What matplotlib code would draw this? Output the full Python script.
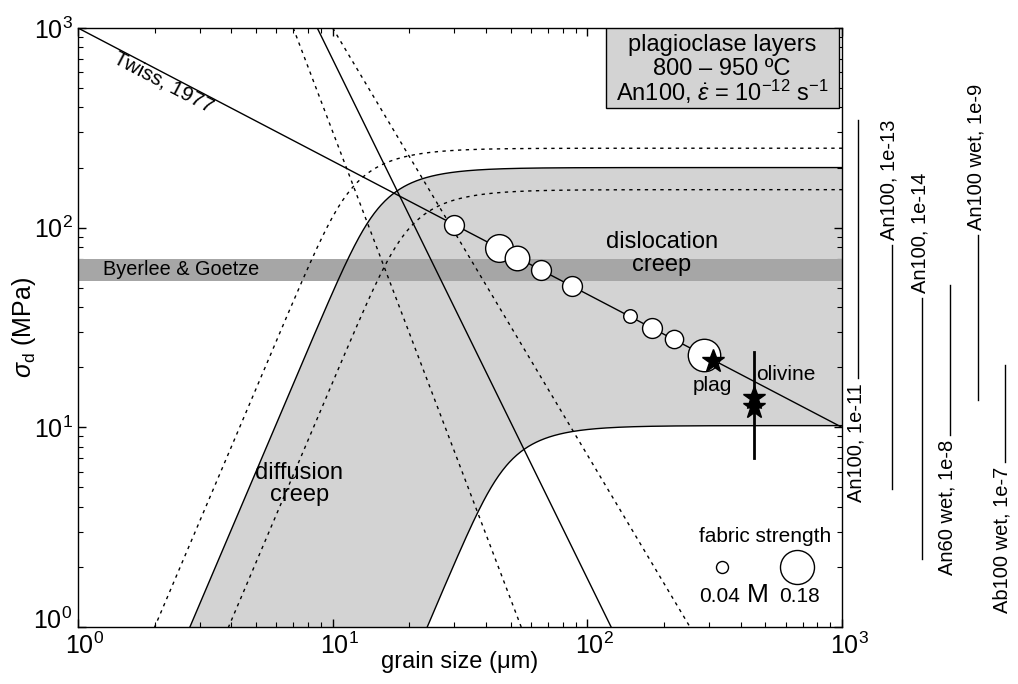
import numpy as np
import matplotlib
matplotlib.use("Agg")
import matplotlib.pyplot as plt
import matplotlib.transforms as mtransforms
from matplotlib.patches import Rectangle
from matplotlib.transforms import blended_transform_factory

plt.rcParams["font.family"] = ["Liberation Sans", "DejaVu Sans"]
plt.rcParams["mathtext.fontset"] = "custom"
plt.rcParams["mathtext.rm"] = "Liberation Sans"
plt.rcParams["mathtext.it"] = "Liberation Sans:italic"
plt.rcParams["mathtext.sf"] = "Liberation Sans"

# composite flow laws at fixed strain rate:
# plateau = dislocation-creep stress (MPa), d0 = grain size (um) where diffusion stress = 1 MPa
field_plateau = [200, 10.2]     # solid, upper / lower edge of grey field
field_d0 = [2.75, 23.5]
dash_plateau = [250, 155]       # dashed, temperature bounds
dash_d0 = [2.0, 3.9]

# straight lines (end points, grain size um / stress MPa)
twiss_d = [1, 1000]
twiss_s = [1000, 10]
steep_d = [8.7, 124]
steep_s = [1000, 1]
steep_dash_d = [[7.0, 55], [10.0, 253]]
steep_dash_s = [[1000, 1], [1000, 1]]

byerlee = (54, 70)

# measured samples
grain_d = [30, 45, 53, 66, 87, 147, 180, 218, 287]
grain_s = [103.5, 79, 70.7, 61.2, 50.9, 35.9, 31.4, 27.6, 23.0]
fabric_M = [0.09, 0.14, 0.12, 0.09, 0.09, 0.05, 0.09, 0.08, 0.17]
legend_M = [0.04, 0.18]

plag_d, plag_s = 311, 21.5
oliv_d = [451, 451]
oliv_s = [14.0, 12.6]
oliv_range = (7.0, 23.9)

# plateau-stress ranges of other flow laws, shown beside the axes
law_labels = ["An100, 1e-11", "An100, 1e-13", "An100, 1e-14",
              "An60 wet, 1e-8", "An100 wet, 1e-9", "Ab100 wet, 1e-7"]
law_lo = [17.7, 4.9, 2.2, 9.2, 13.7, 6.7]
law_hi = [346, 82, 44.5, 51.6, 92, 20.5]
law_text_below = [True, False, False, True, False, True]

decades = [1, 10, 100, 1000]


def composite(d, plateau, d0, n=3, m=3):
    sf = (d / d0) ** m
    lo = np.full_like(d, 1e-8)
    hi = np.minimum(plateau, sf) * 1.0001
    for _ in range(80):
        mid = np.sqrt(lo * hi)
        f = (mid / plateau) ** n + mid / sf - 1
        neg = f < 0
        lo = np.where(neg, mid, lo)
        hi = np.where(neg, hi, mid)
    return np.sqrt(lo * hi)


def m_to_size(m):
    r_px = 2.86 + 78.6 * m
    return 2 * r_px * 0.72


fig = plt.figure(figsize=(10.18, 6.84), dpi=100)
ax = fig.add_axes([78 / 1018, 57 / 684, 764 / 1018, 599 / 684])
ax.set_xscale("log")
ax.set_yscale("log")
ax.set_xlim(1, 1000)
ax.set_ylim(1, 1000)
ax.set_xticks(decades)
ax.set_yticks(decades)

LW = 1.0
DASH = (0, (2.4, 3.2))

d = np.logspace(0, 3, 800)
upper = composite(d, field_plateau[0], field_d0[0])
lower = composite(d, field_plateau[1], field_d0[1])
ax.fill_between(d, lower, upper, color="#d3d3d3", lw=0, zorder=1)
ax.axhspan(byerlee[0], byerlee[1], color="#a6a6a6", lw=0, zorder=2)
ax.plot(d, upper, color="k", lw=LW, zorder=3)
ax.plot(d, lower, color="k", lw=LW, zorder=3)
for p, d0 in zip(dash_plateau, dash_d0):
    ax.plot(d, composite(d, p, d0), color="k", lw=LW, ls=DASH, zorder=3)

ax.plot(twiss_d, twiss_s, color="k", lw=LW, zorder=3)
ax.plot(steep_d, steep_s, color="k", lw=LW, zorder=3)
for xd, ys in zip(steep_dash_d, steep_dash_s):
    ax.plot(xd, ys, color="k", lw=LW, ls=DASH, zorder=3)

for gd, gs, m in zip(grain_d, grain_s, fabric_M):
    ax.plot(gd, gs, "o", ms=m_to_size(m), mfc="white", mec="k", mew=1.0, zorder=5)

ax.plot([oliv_d[0], oliv_d[0]], oliv_range, color="k", lw=2, zorder=5)
ax.plot(plag_d, plag_s, "*", ms=17, color="k", zorder=6)
ax.plot(oliv_d, oliv_s, "*", ms=17, color="k", ls="none", zorder=6)

ax.text(2.16, 531, "Twiss, 1977", rotation=-27.6, rotation_mode="anchor",
        ha="center", va="center", fontsize=15)
ax.text(1.25, 61.5, "Byerlee & Goetze", ha="left", va="center", fontsize=14.3, zorder=4)
ax.text(196, 74, "dislocation\ncreep", ha="center", va="center", fontsize=17,
        linespacing=1.05)
ax.text(7.4, 5.2, "diffusion\ncreep", ha="center", va="center", fontsize=17,
        linespacing=1.05)
ax.text(310, 16.2, "plag", ha="center", va="center", fontsize=15, zorder=7)
ax.text(600, 18.4, "olivine", ha="center", va="center", fontsize=15, zorder=7)

# fabric strength legend
ax.text(498, 2.84, "fabric strength", ha="center", va="center", fontsize=15)
leg_d = [338, 665]
for ld, m in zip(leg_d, legend_M):
    ax.plot(ld, 2.0, "o", ms=m_to_size(m), mfc="white", mec="k", mew=1.0, zorder=5)
ax.text(330, 1.42, "0.04", ha="center", va="center", fontsize=15)
ax.text(684, 1.42, "0.18", ha="center", va="center", fontsize=15)
ax.text(468, 1.44, "M", ha="center", va="center", fontsize=19)

# info box
ax.add_patch(Rectangle((0.691, 0.866), 0.305, 0.134, transform=ax.transAxes,
                       facecolor="#d3d3d3", edgecolor="k", lw=1, zorder=8))
ax.text(0.843, 0.972, "plagioclase layers", transform=ax.transAxes, ha="center",
        va="center", fontsize=17, zorder=9)
ax.text(0.843, 0.932, "800 – 950 ºC", transform=ax.transAxes, ha="center",
        va="center", fontsize=17, zorder=9)
ax.text(0.843, 0.893, r"An100, $\dot{\varepsilon}$ = 10$^{-12}$ s$^{-1}$",
        transform=ax.transAxes, ha="center", va="center", fontsize=17, zorder=9)

# flow-law stress ranges outside the axes
trans = blended_transform_factory(ax.transAxes, ax.transData)
law_x = [1.021, 1.065, 1.105, 1.141, 1.178, 1.213]
for lab, lo, hi, below, lx in zip(law_labels, law_lo, law_hi, law_text_below, law_x):
    ax.plot([lx, lx], [lo, hi], color="k", lw=1.0, transform=trans, clip_on=False)
    if below:
        ax.text(lx - 0.003, lo / 1.06, lab, rotation=90, ha="center", va="top",
                fontsize=14.5, transform=trans)
    else:
        ax.text(lx - 0.003, hi * 1.06, lab, rotation=90, ha="center", va="bottom",
                fontsize=14.5, transform=trans)

ax.set_xlabel("grain size (μm)", fontsize=17)
ax.set_ylabel(r"$\sigma_\mathrm{d}$ (MPa)", fontsize=18)
ax.xaxis.set_label_coords(0.5, -0.040)
ax.yaxis.set_label_coords(-0.053, 0.5)
ax.tick_params(which="both", direction="in", top=True, right=True, labelsize=18)
ax.tick_params(which="major", length=6, width=1, pad=4)
ax.tick_params(axis="x", which="major", pad=4)
ax.tick_params(which="minor", length=3.5, width=0.8)
for sp in ax.spines.values():
    sp.set_linewidth(1.0)

# keep the corner labels apart: x labels centred on the mantissa, lowest y label nudged up
xoff = mtransforms.ScaledTranslation(7 / 100, 0, fig.dpi_scale_trans)
for tick in ax.xaxis.get_major_ticks():
    tick.label1.set_transform(tick.label1.get_transform() + xoff)
yoff = mtransforms.ScaledTranslation(0, 9 / 100, fig.dpi_scale_trans)
low = ax.yaxis.get_major_ticks()[0].label1
low.set_transform(low.get_transform() + yoff)

fig.savefig("out.png", dpi=100, facecolor="white")
